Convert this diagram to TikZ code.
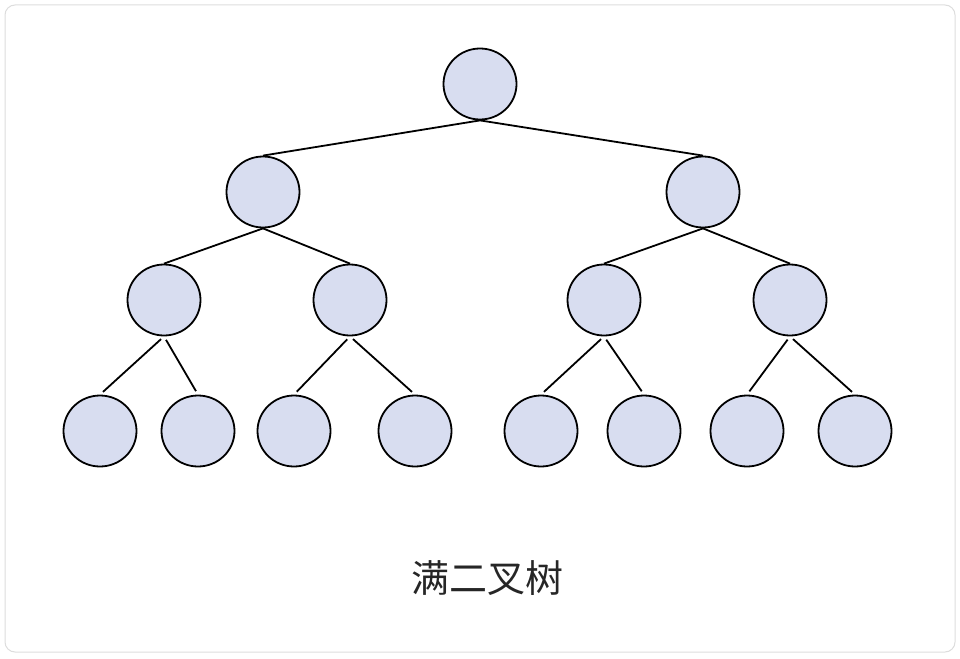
\documentclass[tikz,border=0pt]{standalone}
\usepackage{fontspec}
\usetikzlibrary{shapes.geometric}
\newfontfamily\cjk{Noto Sans CJK SC}
\definecolor{nodefill}{HTML}{D8DDF0}
\definecolor{framec}{HTML}{DDDDDD}
\begin{document}
\begin{tikzpicture}[x=1pt,y=-1pt,
  tn/.style={ellipse,draw=black,line width=1.8pt,fill=nodefill,minimum width=73pt,minimum height=71pt,inner sep=0pt},
  ed/.style={line width=1.8pt}]
\useasboundingbox (0,0) rectangle (960,658);
\draw[framec,line width=1pt,rounded corners=10pt,fill=white] (5,5) rectangle (955,652);
\node[tn] (r) at (480,84) {};
\node[tn] (a) at (263,192) {};
\node[tn] (b) at (703,192) {};
\node[tn] (a1) at (164,300) {};
\node[tn] (a2) at (350,300) {};
\node[tn] (b1) at (604,300) {};
\node[tn] (b2) at (790,300) {};
\node[tn] (c1) at (100,431) {};
\node[tn] (c2) at (198,431) {};
\node[tn] (c3) at (294,431) {};
\node[tn] (c4) at (415,431) {};
\node[tn] (c5) at (541,431) {};
\node[tn] (c6) at (644,431) {};
\node[tn] (c7) at (747,431) {};
\node[tn] (c8) at (855,431) {};
\draw[ed] (r.south) -- (a.north);
\draw[ed] (r.south) -- (b.north);
\foreach \p/\c in {a/a1,a/a2,b/b1,b/b2}{\draw[ed] (\p.south) -- (\c.north);}
\foreach \p/\c in {a1/c1,a1/c2,a2/c3,a2/c4,b1/c5,b1/c6,b2/c7,b2/c8}{\draw[ed,shorten <=4pt,shorten >=4pt] (\p.south) -- (\c.north);}
\node[font=\cjk\fontsize{38}{46}\selectfont,text=black!85] (t) at (487,578) {满二叉树};
\end{tikzpicture}
\end{document}
